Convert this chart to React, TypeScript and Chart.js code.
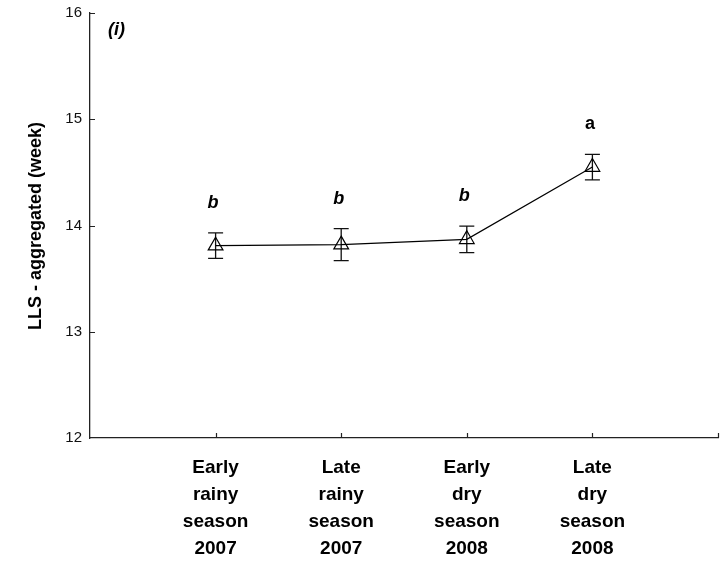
import React, { useEffect, useRef } from 'react';
import { Chart, registerables } from 'chart.js';

Chart.register(...registerables);

// Season categories (multi-line labels) and their x positions
const seasons: string[][] = [
  ['Early', 'rainy', 'season', '2007'],
  ['Late', 'rainy', 'season', '2007'],
  ['Early', 'dry', 'season', '2008'],
  ['Late', 'dry', 'season', '2008'],
];
const seasonPositions = [1, 2, 3, 4];

// Mean LLS (weeks) with standard errors
const meanWeeks = [13.81, 13.82, 13.87, 14.55];
const stdErrors = [0.12, 0.15, 0.125, 0.12];

// Post-hoc grouping letters
const groupLetters = ['b', 'b', 'b', 'a'];

// Axis ticks
const yTickValues = [12, 13, 14, 15, 16];
const xTickMarks = [1, 2, 3, 4, 5];

const FONT = '"Liberation Sans", Arial, sans-serif';

const decorations = {
  id: 'decorations',
  beforeDatasetsDraw(chart: any) {
    const { ctx, scales } = chart;
    const x = scales.x;
    const y = scales.y;
    ctx.save();
    ctx.strokeStyle = '#111';
    ctx.lineWidth = 1.3;
    meanWeeks.forEach((m, i) => {
      const px = x.getPixelForValue(seasonPositions[i]);
      const top = y.getPixelForValue(m + stdErrors[i]);
      const bot = y.getPixelForValue(m - stdErrors[i]);
      ctx.beginPath();
      ctx.moveTo(px, top);
      ctx.lineTo(px, bot);
      ctx.moveTo(px - 7.5, top);
      ctx.lineTo(px + 7.5, top);
      ctx.moveTo(px - 7.5, bot);
      ctx.lineTo(px + 7.5, bot);
      ctx.stroke();
    });
    ctx.restore();
  },
  afterDraw(chart: any) {
    const { ctx, scales, chartArea } = chart;
    const x = scales.x;
    const y = scales.y;
    ctx.save();
    // inward tick marks
    ctx.strokeStyle = '#222';
    ctx.lineWidth = 1.2;
    ctx.beginPath();
    xTickMarks.forEach((v) => {
      const px = Math.round(x.getPixelForValue(v)) + 0.5;
      ctx.moveTo(px, chartArea.bottom);
      ctx.lineTo(px, chartArea.bottom - 5);
    });
    yTickValues.slice(1).forEach((v) => {
      const py = Math.round(y.getPixelForValue(v)) + 0.5;
      ctx.moveTo(chartArea.left, py);
      ctx.lineTo(chartArea.left + 5, py);
    });
    ctx.stroke();

    // grouping letters above the error bars
    ctx.fillStyle = '#000';
    ctx.textAlign = 'center';
    ctx.textBaseline = 'middle';
    groupLetters.forEach((letter, i) => {
      const px = x.getPixelForValue(seasonPositions[i]);
      const py = y.getPixelForValue(meanWeeks[i] + stdErrors[i]) - 30;
      ctx.font = (letter === 'a' ? 'bold ' : 'italic bold ') + '18px ' + FONT;
      ctx.fillText(letter, px - 2.5, py);
    });

    // panel tag
    ctx.font = 'italic bold 18px ' + FONT;
    ctx.textAlign = 'left';
    ctx.fillText('(i)', 108, 30);

    // y-axis title
    ctx.translate(36, 226);
    ctx.rotate(-Math.PI / 2);
    ctx.textAlign = 'center';
    ctx.font = 'bold 18px ' + FONT;
    ctx.fillText('LLS - aggregated (week)', 0, 0);
    ctx.restore();
  },
};

export default function App() {
  const canvasRef = useRef<HTMLCanvasElement | null>(null);

  useEffect(() => {
    document.body.style.margin = '0';
    const canvas = canvasRef.current;
    if (!canvas) return;
    const chart = new Chart(canvas, {
      type: 'scatter',
      data: {
        datasets: [
          {
            data: meanWeeks.map((m, i) => ({ x: seasonPositions[i], y: m })),
            showLine: true,
            borderColor: '#000',
            borderWidth: 1.2,
            pointStyle: 'triangle',
            pointRadius: 8.5,
            pointHoverRadius: 8.5,
            pointBorderWidth: 1.2,
            pointBorderColor: '#000',
            pointBackgroundColor: 'rgba(0,0,0,0)',
          },
        ],
      },
      options: {
        animation: false,
        responsive: false,
        maintainAspectRatio: false,
        events: [],
        layout: { autoPadding: false, padding: { top: 13, right: 2, left: 0, bottom: 0 } },
        plugins: {
          legend: { display: false },
          tooltip: { enabled: false },
        },
        scales: {
          x: {
            type: 'linear',
            min: 0,
            max: 5,
            afterBuildTicks: (scale: any) => {
              scale.ticks = seasonPositions.map((v) => ({ value: v }));
            },
            afterFit: (scale: any) => {
              scale.height = 128;
            },
            grid: { display: false, drawTicks: false },
            border: { display: true, color: '#222', width: 1.3 },
            ticks: {
              padding: 16,
              maxRotation: 0,
              autoSkip: false,
              color: '#000',
              font: { family: FONT, size: 19, weight: 'bold', lineHeight: 1.42 },
              callback: (v: any) => {
                const idx = seasonPositions.indexOf(Number(v));
                return idx >= 0 ? seasons[idx] : '';
              },
            },
          },
          y: {
            type: 'linear',
            min: 12,
            max: 16,
            afterBuildTicks: (scale: any) => {
              scale.ticks = yTickValues.map((v) => ({ value: v }));
            },
            afterFit: (scale: any) => {
              scale.width = 90;
              scale.paddingTop = 0;
              scale.paddingBottom = 0;
            },
            grid: { display: false, drawTicks: false },
            border: { display: true, color: '#222', width: 1.3 },
            ticks: {
              padding: 8,
              color: '#111',
              font: { family: FONT, size: 15, lineHeight: 0.4 },
            },
          },
        },
      },
      plugins: [decorations],
    } as any);
    return () => chart.destroy();
  }, []);

  return (
    <div style={{ width: 720, height: 566, background: '#fff' }}>
      <canvas ref={canvasRef} width={720} height={566} style={{ display: 'block' }} />
    </div>
  );
}
